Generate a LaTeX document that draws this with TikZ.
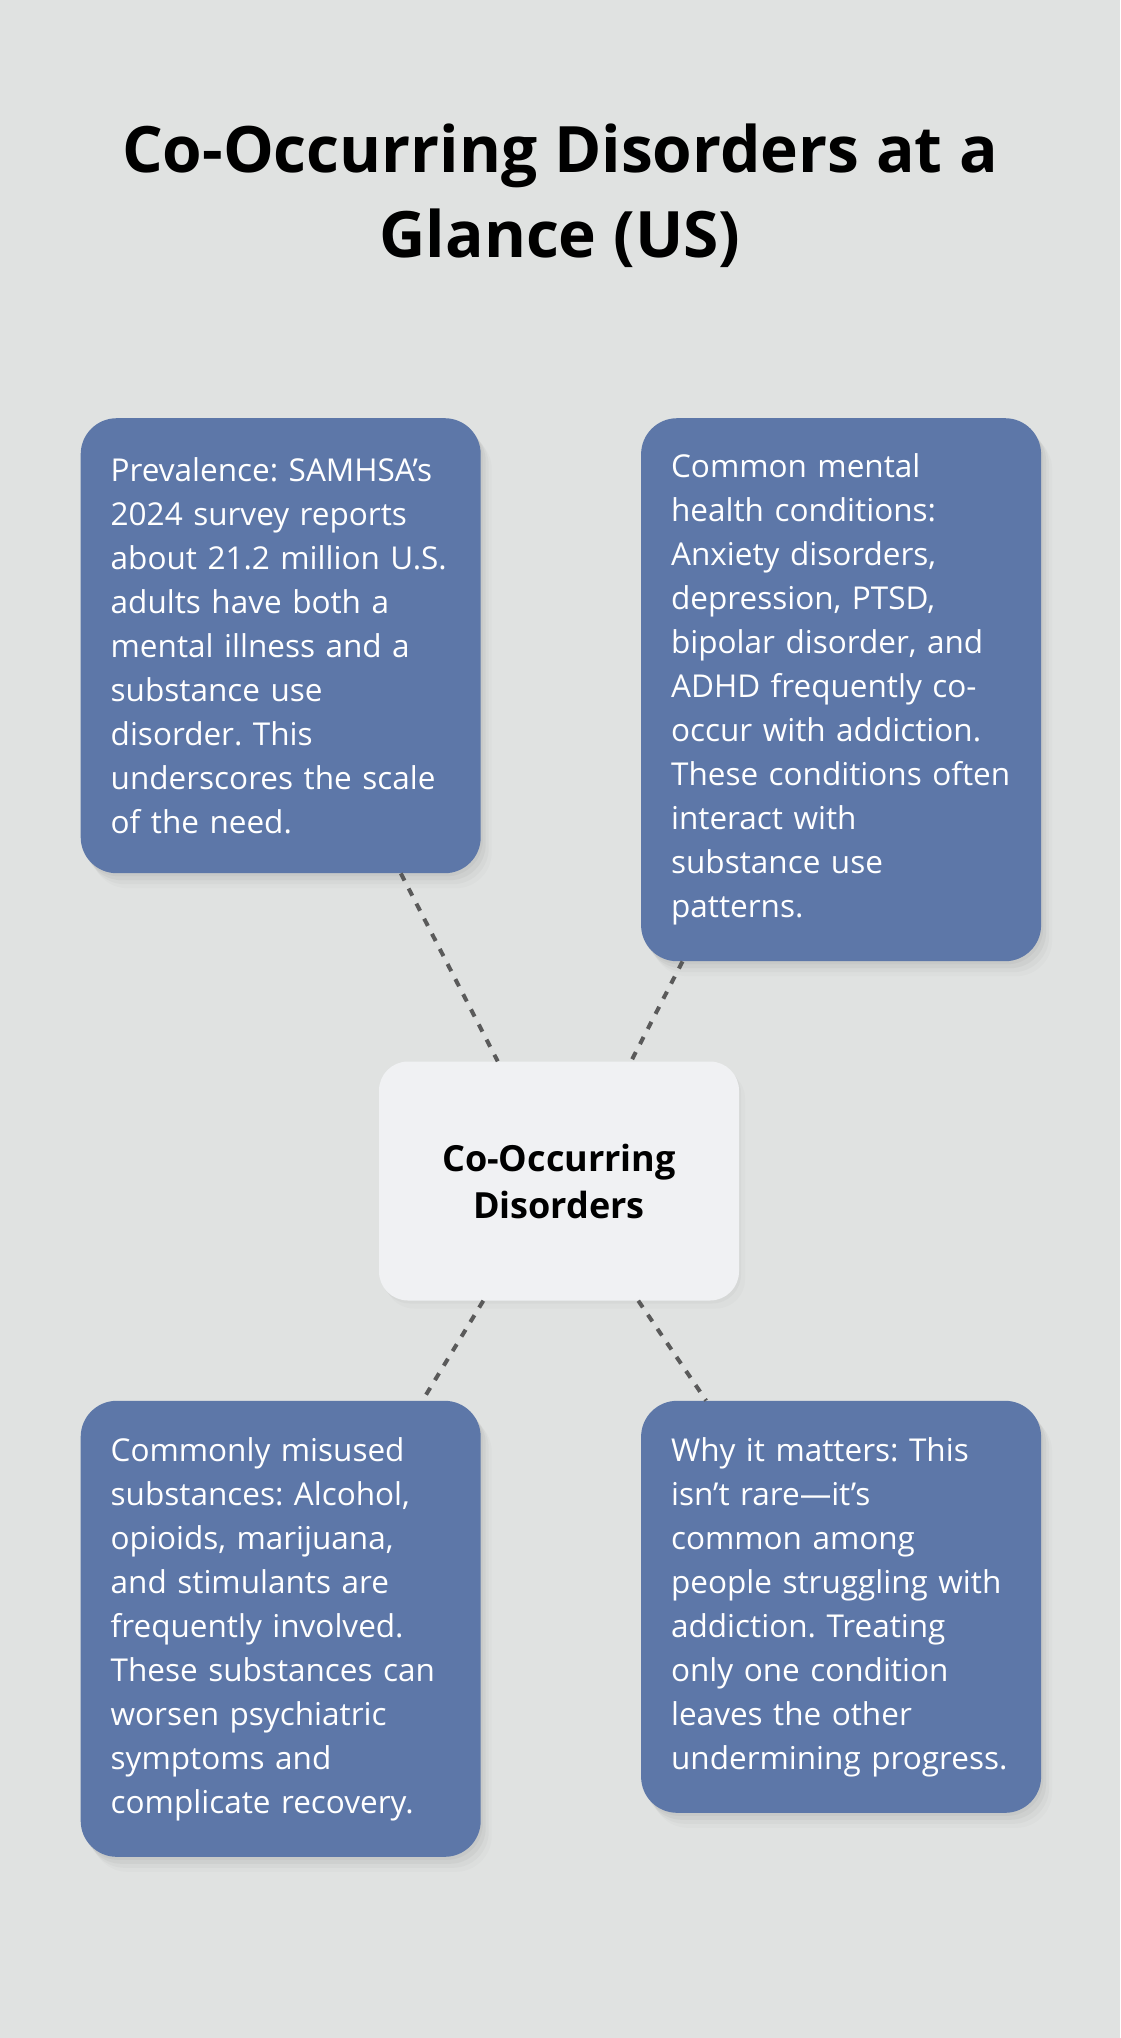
\documentclass[tikz,border=0pt]{standalone}
\usepackage{fontspec}
\setmainfont{Open Sans}
\usetikzlibrary{positioning, calc, shadows}
\definecolor{pageBg}{HTML}{E0E2E1}
\definecolor{cardBlue}{HTML}{5D77A8}
\definecolor{coreFill}{HTML}{F0F1F3}
\definecolor{linkGray}{HTML}{5A5A5A}
\frenchspacing

\begin{document}
\begin{tikzpicture}[x=1pt, y=-1pt,
    node distance=160pt and 160pt,
    softshadow/.style={
      drop shadow={shadow xshift=2pt, shadow yshift=-3pt, opacity=0.10},
      drop shadow={shadow xshift=5pt, shadow yshift=-7pt, opacity=0.08},
      drop shadow={shadow xshift=8pt, shadow yshift=-11pt, opacity=0.06},
      drop shadow={shadow xshift=11pt, shadow yshift=-15pt, opacity=0.04}},
    card/.style={rectangle, rounded corners=36pt, fill=cardBlue, text=white, align=left,
      text width=340pt, inner xsep=30pt, inner ysep=0pt, anchor=north west,
      font=\fontsize{31.5}{44}\selectfont, softshadow},
    corebox/.style={rectangle, rounded corners=29pt, fill=coreFill, align=center,
      minimum width=360pt, minimum height=239pt, inner sep=0pt,
      font=\bfseries\fontsize{36}{47}\selectfont,
      drop shadow={shadow xshift=2pt, shadow yshift=-3pt, opacity=0.06},
      drop shadow={shadow xshift=6pt, shadow yshift=-8pt, opacity=0.04}},
    link/.style={draw=linkGray, line width=4pt, dash pattern=on 8pt off 9pt}
  ]

    % page and title
    \fill[pageBg] (0,0) rectangle (1120,2038);
    \node[align=center, font=\bfseries\fontsize{64}{85}\selectfont] (title) at (560,196)
      {Co-Occurring Disorders at a\\Glance (US)};

    % centre
    \node[corebox] (core) at (559,1181) {Co-Occurring\\Disorders};

    % cards, top row
    \node[card, minimum height=455pt] (prevalence) at (80.5,418)
      {Prevalence: SAMHSA’s\\2024 survey reports\\about 21.2 million U.S.\\adults have both a\\mental illness and a\\substance use\\disorder. This\\underscores the scale\\of the need.};
    \node[card, minimum height=543pt, right=160pt of prevalence.north east, anchor=north west] (conditions)
      {Common mental\\health conditions:\\Anxiety disorders,\\depression, PTSD,\\bipolar disorder, and\\ADHD frequently co-\\occur with addiction.\\These conditions often\\interact with\\substance use\\patterns.};

    % cards, bottom row
    \node[card, minimum height=456pt] (substances) at (80.5,1400.6)
      {Commonly misused\\substances: Alcohol,\\opioids, marijuana,\\and stimulants are\\frequently involved.\\These substances can\\worsen psychiatric\\symptoms and\\complicate recovery.};
    \node[card, minimum height=412pt, right=160pt of substances.north east, anchor=north west] (matters)
      {Why it matters: This\\isn’t rare—it’s\\common among\\people struggling with\\addiction. Treating\\only one condition\\leaves the other\\undermining progress.};

    % dotted links to the centre
    \draw[link] ($(prevalence.south west)!0.8!(prevalence.south east)$) -- ($(core.north west)!0.33!(core.north east)$);
    \draw[link] ($(conditions.south west)!0.104!(conditions.south east)$) -- ($(core.north west)!0.70!(core.north east)$);
    \draw[link] ($(core.south west)!0.29!(core.south east)$) -- ($(substances.north west)!0.854!(substances.north east)$);
    \draw[link] ($(core.south west)!0.72!(core.south east)$) -- ($(matters.north west)!0.163!(matters.north east)$);

\end{tikzpicture}
\end{document}
